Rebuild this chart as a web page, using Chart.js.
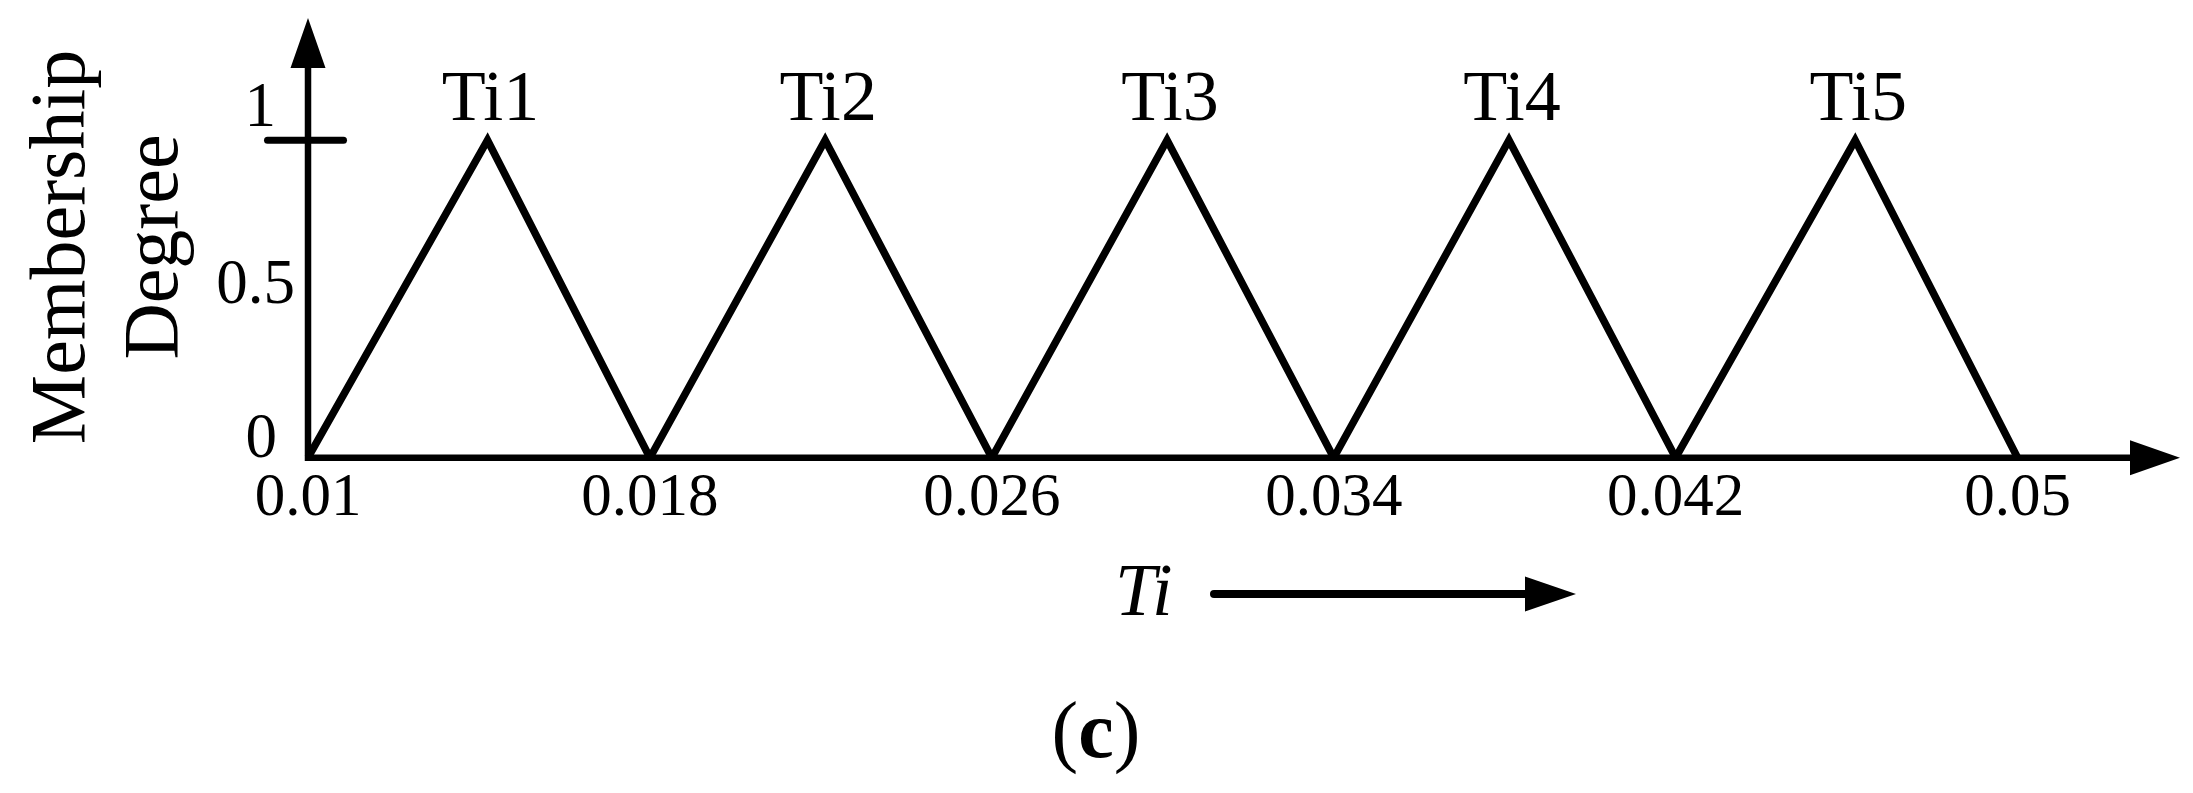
<!DOCTYPE html>
<html><head><meta charset="utf-8">
<script src="https://cdn.jsdelivr.net/npm/chart.js@4.4.1/dist/chart.umd.min.js"></script>
<style>html,body{margin:0;padding:0;background:#fff;} canvas{display:block;}</style>
</head><body>
<canvas id="c" width="2193" height="793"></canvas>
<script>
// ---- data ----
const setNames = ['Ti1', 'Ti2', 'Ti3', 'Ti4', 'Ti5'];
const xTicks = [0.01, 0.018, 0.026, 0.034, 0.042, 0.05];
const xTickLabels = ['0.01', '0.018', '0.026', '0.034', '0.042', '0.05'];
const peakX = [0.0142, 0.0221, 0.0301, 0.0381, 0.0462];
const peakDegree = [1, 1, 1, 1, 1];
const footDegree = [0, 0, 0, 0, 0];
const yTicks = [0, 0.5, 1];
const yTickLabels = ['0', '0.5', '1'];
const xAxisMax = 0.0538;
const yAxisMax = 1.385;
const yTitleLines = ['Membership', 'Degree'];
const xTitle = 'Ti';
const panelLabel = 'c';

const FONT = "'Liberation Serif','Times New Roman',serif";

const datasets = setNames.map((name, i) => ({
  label: name,
  data: [
    {x: xTicks[i], y: footDegree[i]},
    {x: peakX[i], y: peakDegree[i]},
    {x: xTicks[i + 1], y: footDegree[i]}
  ],
  borderColor: '#000',
  borderWidth: 7.5,
  borderJoinStyle: 'miter',
  pointRadius: 0,
  tension: 0,
  fill: false,
  clip: false
}));

const decor = {
  id: 'decor',
  afterDatasetsDraw(chart) {
    const {ctx, chartArea: ca, scales: {x, y}} = chart;
    const x0 = x.left, y0 = y.getPixelForValue(0);
    ctx.save();
    ctx.fillStyle = '#000';
    ctx.strokeStyle = '#000';
    // axes with arrows
    const ah = 50, aw = 17.5;
    ctx.lineWidth = 6.5; ctx.lineCap = 'butt';
    ctx.beginPath();
    ctx.moveTo(x0, y0 + 3.25); ctx.lineTo(x0, ca.top + ah);
    ctx.moveTo(x0 - 3.25, y0); ctx.lineTo(ca.right - ah, y0);
    ctx.stroke();
    ctx.beginPath();
    ctx.moveTo(x0, ca.top); ctx.lineTo(x0 - aw, ca.top + ah); ctx.lineTo(x0 + aw, ca.top + ah); ctx.closePath();
    ctx.moveTo(ca.right, y0); ctx.lineTo(ca.right - ah, y0 - aw); ctx.lineTo(ca.right - ah, y0 + aw); ctx.closePath();
    ctx.fill();
    // tick mark at 1
    const y1 = y.getPixelForValue(1);
    ctx.lineWidth = 7; ctx.lineCap = 'round';
    ctx.beginPath(); ctx.moveTo(x0 - 40.5, y1); ctx.lineTo(x0 + 35.5, y1); ctx.stroke();
    // y tick labels
    const yLabStyle = {dxRight: [-31, -13, -32], dyBase: [-1, 4, -14]};
    ctx.font = '63px ' + FONT;
    ctx.textAlign = 'right'; ctx.textBaseline = 'alphabetic';
    yTicks.forEach((v, i) => {
      ctx.fillText(yTickLabels[i], x0 + yLabStyle.dxRight[i], y.getPixelForValue(v) + yLabStyle.dyBase[i]);
    });
    // y title (rotated, two lines)
    ctx.font = '78px ' + FONT;
    ctx.textAlign = 'center';
    yTitleLines.forEach((t, i) => {
      ctx.save();
      ctx.translate(84 + i * 93, 247);
      ctx.rotate(-Math.PI / 2);
      ctx.fillText(t, 0, 0);
      ctx.restore();
    });
    // set labels above peaks
    ctx.font = '72px ' + FONT;
    ctx.textAlign = 'center';
    setNames.forEach((n, i) => {
      ctx.fillText(n, x.getPixelForValue(peakX[i]) + 3, y.getPixelForValue(peakDegree[i]) - 20);
    });
    // x title with arrow
    ctx.font = 'italic 74px ' + FONT;
    ctx.textAlign = 'left';
    ctx.fillText(xTitle, 1115, 615);
    ctx.lineWidth = 8; ctx.lineCap = 'round';
    ctx.beginPath(); ctx.moveTo(1214, 594); ctx.lineTo(1528, 594); ctx.stroke();
    ctx.beginPath(); ctx.moveTo(1576, 594); ctx.lineTo(1525, 576.5); ctx.lineTo(1525, 611.5); ctx.closePath(); ctx.fill();
    // panel label (c)
    const fr = '80px ' + FONT, fb = 'bold 80px ' + FONT;
    ctx.font = fr; const wp = ctx.measureText('(').width, wq = ctx.measureText(')').width;
    ctx.font = fb; const wc = ctx.measureText(panelLabel).width;
    let px = 1096 - (wp + wc + wq) / 2;
    ctx.textAlign = 'left';
    ctx.font = fr; ctx.fillText('(', px, 757); px += wp;
    ctx.font = fb; ctx.fillText(panelLabel, px, 757); px += wc;
    ctx.font = fr; ctx.fillText(')', px, 757);
    ctx.restore();
  }
};

new Chart(document.getElementById('c'), {
  type: 'line',
  data: {datasets},
  options: {
    responsive: false,
    animation: false,
    devicePixelRatio: 1,
    layout: {padding: {left: 308, right: 13, top: 18, bottom: 0}},
    plugins: {legend: {display: false}, tooltip: {enabled: false}, title: {display: false}},
    scales: {
      x: {
        type: 'linear',
        min: xTicks[0],
        max: xAxisMax,
        grid: {display: false, drawTicks: false},
        border: {display: false},
        afterBuildTicks: s => { s.ticks = xTicks.map(v => ({value: v})); },
        afterFit: s => { s.height = 335.3; },
        ticks: {
          autoSkip: false, maxRotation: 0, minRotation: 0, padding: 5,
          color: '#000',
          font: {family: FONT, size: 61},
          callback: (v, i) => xTickLabels[i]
        }
      },
      y: {
        type: 'linear',
        display: false,
        min: 0,
        max: yAxisMax
      }
    }
  },
  plugins: [decor]
});
</script>
</body></html>
